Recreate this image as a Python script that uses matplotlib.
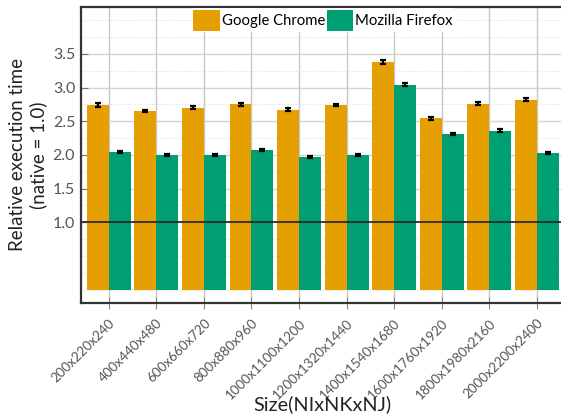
import numpy as np
import matplotlib
matplotlib.use('Agg')
import matplotlib.pyplot as plt
from matplotlib.ticker import MultipleLocator

plt.rcParams['font.family'] = ['Lato', 'DejaVu Sans']

# data
sizes = ['200x220x240', '400x440x480', '600x660x720', '800x880x960',
         '1000x1100x1200', '1200x1320x1440', '1400x1540x1680',
         '1600x1760x1920', '1800x1980x2160', '2000x2200x2400']
chrome = [2.74, 2.65, 2.70, 2.75, 2.67, 2.74, 3.38, 2.54, 2.76, 2.82]
firefox = [2.04, 2.00, 2.00, 2.07, 1.97, 2.00, 3.04, 2.31, 2.36, 2.03]
chrome_err = [0.025, 0.02, 0.02, 0.02, 0.02, 0.02, 0.025, 0.02, 0.025, 0.02]
firefox_err = [0.015, 0.015, 0.015, 0.015, 0.015, 0.015, 0.02, 0.02, 0.02, 0.015]

orange = '#E69F00'
green = '#009E73'

fig = plt.figure(figsize=(5.61, 4.17), dpi=100)
W, H = 561, 417
ax = fig.add_axes([80.7 / W, 1 - 303 / H, (565 - 80.7) / W, (303 - 6.7) / H])

x = np.arange(len(sizes))
bw = 0.46
ax.bar(x - bw / 2, chrome, bw, color=orange, label='Google Chrome', zorder=2)
ax.bar(x + bw / 2, firefox, bw, color=green, label='Mozilla Firefox', zorder=2)
ax.errorbar(x - bw / 2, chrome, yerr=chrome_err, fmt='none', ecolor='black',
            elinewidth=1.6, capsize=2.5, capthick=1.6, zorder=4)
ax.errorbar(x + bw / 2, firefox, yerr=firefox_err, fmt='none', ecolor='black',
            elinewidth=1.6, capsize=2.5, capthick=1.6, zorder=4)

ax.axhline(1.0, color='#222222', lw=1.2, zorder=3)

ax.set_xlim(-0.59, 9.59)
ax.set_ylim(-0.2, 4.2)
ax.set_yticks([1.0, 1.5, 2.0, 2.5, 3.0, 3.5])
ax.yaxis.set_minor_locator(MultipleLocator(0.25))
ax.set_xticks(x)
ax.set_xticklabels(sizes, rotation=45, ha='right', rotation_mode='anchor')

ax.grid(True, which='major', axis='y', color='#d4d4d4', lw=1.0, zorder=0)
ax.grid(True, which='minor', axis='y', color='#dddddd', lw=0.8, ls=':', zorder=0)
ax.grid(True, which='major', axis='x', color='#c8c8c8', lw=1.0, zorder=0)
ax.set_axisbelow(True)

ax.tick_params(axis='y', which='major', direction='in', length=5, color='#777777',
               labelcolor='#555555', labelsize=11.5, pad=4)
ax.tick_params(axis='y', which='minor', length=0)
ax.tick_params(axis='x', direction='inout', length=8, color='#888888',
               labelcolor='#555555', labelsize=9.7, pad=6)

for s in ['left', 'bottom', 'top']:
    ax.spines[s].set_color('#333333')
    ax.spines[s].set_linewidth(1.6)
ax.spines['right'].set_visible(False)

ax.set_ylabel('Relative execution time\n(native = 1.0)', fontsize=13.5, color='#222222',
              labelpad=4)
ax.set_xlabel('Size(NIxNKxNJ)', fontsize=14.3, color='#222222')
ax.xaxis.set_label_coords(0.5, -0.31)

leg = ax.legend(loc='upper center', ncol=2, fontsize=10.7, frameon=True,
                fancybox=False, handlelength=1.8, handleheight=1.8,
                handletextpad=0.1, columnspacing=0.1, borderpad=0.1,
                borderaxespad=0.1, bbox_to_anchor=(0.5, 1.0))
leg.get_frame().set_facecolor('white')
leg.get_frame().set_edgecolor('none')
leg.get_frame().set_alpha(1)
leg.set_zorder(5)

fig.savefig('out.png', dpi=100)
